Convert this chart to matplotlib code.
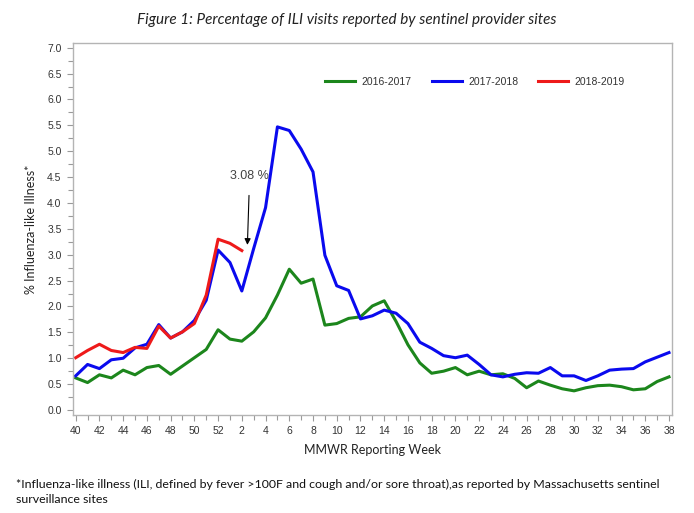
import matplotlib.pyplot as plt
from matplotlib.ticker import MultipleLocator

weeks = list(range(40, 53)) + list(range(1, 39))

ili_2016_2017 = [0.62, 0.53, 0.68, 0.62, 0.77, 0.68, 0.82, 0.86, 0.69, 0.85,
                 1.01, 1.17, 1.55, 1.37, 1.33, 1.51, 1.78, 2.22, 2.72, 2.45,
                 2.53, 1.64, 1.67, 1.77, 1.80, 2.01, 2.11, 1.71, 1.26, 0.91,
                 0.71, 0.75, 0.82, 0.68, 0.75, 0.68, 0.70, 0.61, 0.43, 0.56,
                 0.48, 0.41, 0.37, 0.43, 0.47, 0.48, 0.45, 0.39, 0.41, 0.55,
                 0.64]
ili_2017_2018 = [0.66, 0.88, 0.80, 0.97, 1.00, 1.20, 1.27, 1.65, 1.39, 1.51,
                 1.73, 2.12, 3.09, 2.85, 2.30, 3.12, 3.91, 5.47, 5.40, 5.04,
                 4.60, 2.99, 2.40, 2.31, 1.76, 1.82, 1.93, 1.87, 1.67, 1.31,
                 1.19, 1.05, 1.01, 1.06, 0.88, 0.68, 0.64, 0.69, 0.72, 0.71,
                 0.82, 0.66, 0.66, 0.57, 0.66, 0.77, 0.79, 0.80, 0.93, 1.02,
                 1.11]
ili_2018_2019 = [1.01, 1.15, 1.27, 1.15, 1.11, 1.21, 1.19, 1.62, 1.39, 1.51,
                 1.67, 2.22, 3.30, 3.22, 3.08]

seasons = ["2016-2017", "2017-2018", "2018-2019"]
colors = ["#1c861c", "#0a0aee", "#ee1a1a"]

footnote = ("*Influenza-like illness (ILI, defined by fever >100F and cough and/or sore throat),"
            "as reported by Massachusetts sentinel\nsurveillance sites")

fig = plt.figure(figsize=(6.94, 5.13), dpi=100)
ax = fig.add_axes([0.1048, 0.192, 0.8631, 0.7236])

x = list(range(len(weeks)))
for vals, lab, col in zip([ili_2016_2017, ili_2017_2018, ili_2018_2019], seasons, colors):
    ax.plot(x[:len(vals)], vals, color=col, lw=2.2, label=lab, solid_joinstyle="round")

ax.set_xlim(-0.25, 50.23)
ax.set_ylim(-0.087, 7.085)
ax.set_xticks(x[::2])
ax.set_xticklabels([str(w) for w in weeks[::2]])
ax.xaxis.set_minor_locator(MultipleLocator(1))
ax.yaxis.set_major_locator(MultipleLocator(0.5))
ax.yaxis.set_minor_locator(MultipleLocator(0.25))
ax.yaxis.set_major_formatter(lambda v, p: f"{v:.1f}")

for s in ax.spines.values():
    s.set_color("#b4b4b4")
    s.set_linewidth(1.0)
ax.tick_params(which="both", colors="#9a9a9a", labelcolor="#333333", labelsize=7.5)
ax.tick_params(which="major", length=4.5, width=0.8)
ax.tick_params(which="minor", length=3.5, width=0.8)
for lbl in ax.get_xticklabels() + ax.get_yticklabels():
    lbl.set_family("Liberation Sans")

ax.set_xlabel("MMWR Reporting Week", family="Lato", fontsize=9, color="#222222", labelpad=6)
ax.set_ylabel("% Influenza-like Illness*", family="Lato", fontsize=9, color="#222222", labelpad=7)

leg = ax.legend(loc="upper right", bbox_to_anchor=(0.937, 0.935), ncol=3, frameon=False,
                prop={"family": "Liberation Sans", "size": 7.5},
                handlelength=2.9, handletextpad=0.6, columnspacing=1.9)
for t in leg.get_texts():
    t.set_color("#333333")

ax.annotate("3.08 %", xy=(14.47, 3.19), xytext=(14.66, 4.53),
            ha="center", va="center", fontsize=9, color="#444444",
            family="Liberation Sans",
            arrowprops=dict(arrowstyle="-|>", color="black", lw=0.8,
                            mutation_scale=9, shrinkA=8, shrinkB=0))

fig.text(0.5, 0.961, "Figure 1: Percentage of ILI visits reported by sentinel provider sites",
         ha="center", va="center", family="Lato", style="italic", fontsize=11, color="#222222")
fig.text(0.023, 0.066, footnote, ha="left", va="top", family="Lato", fontsize=8.95,
         color="#111111", linespacing=1.45)

fig.savefig("out.png", dpi=100)
